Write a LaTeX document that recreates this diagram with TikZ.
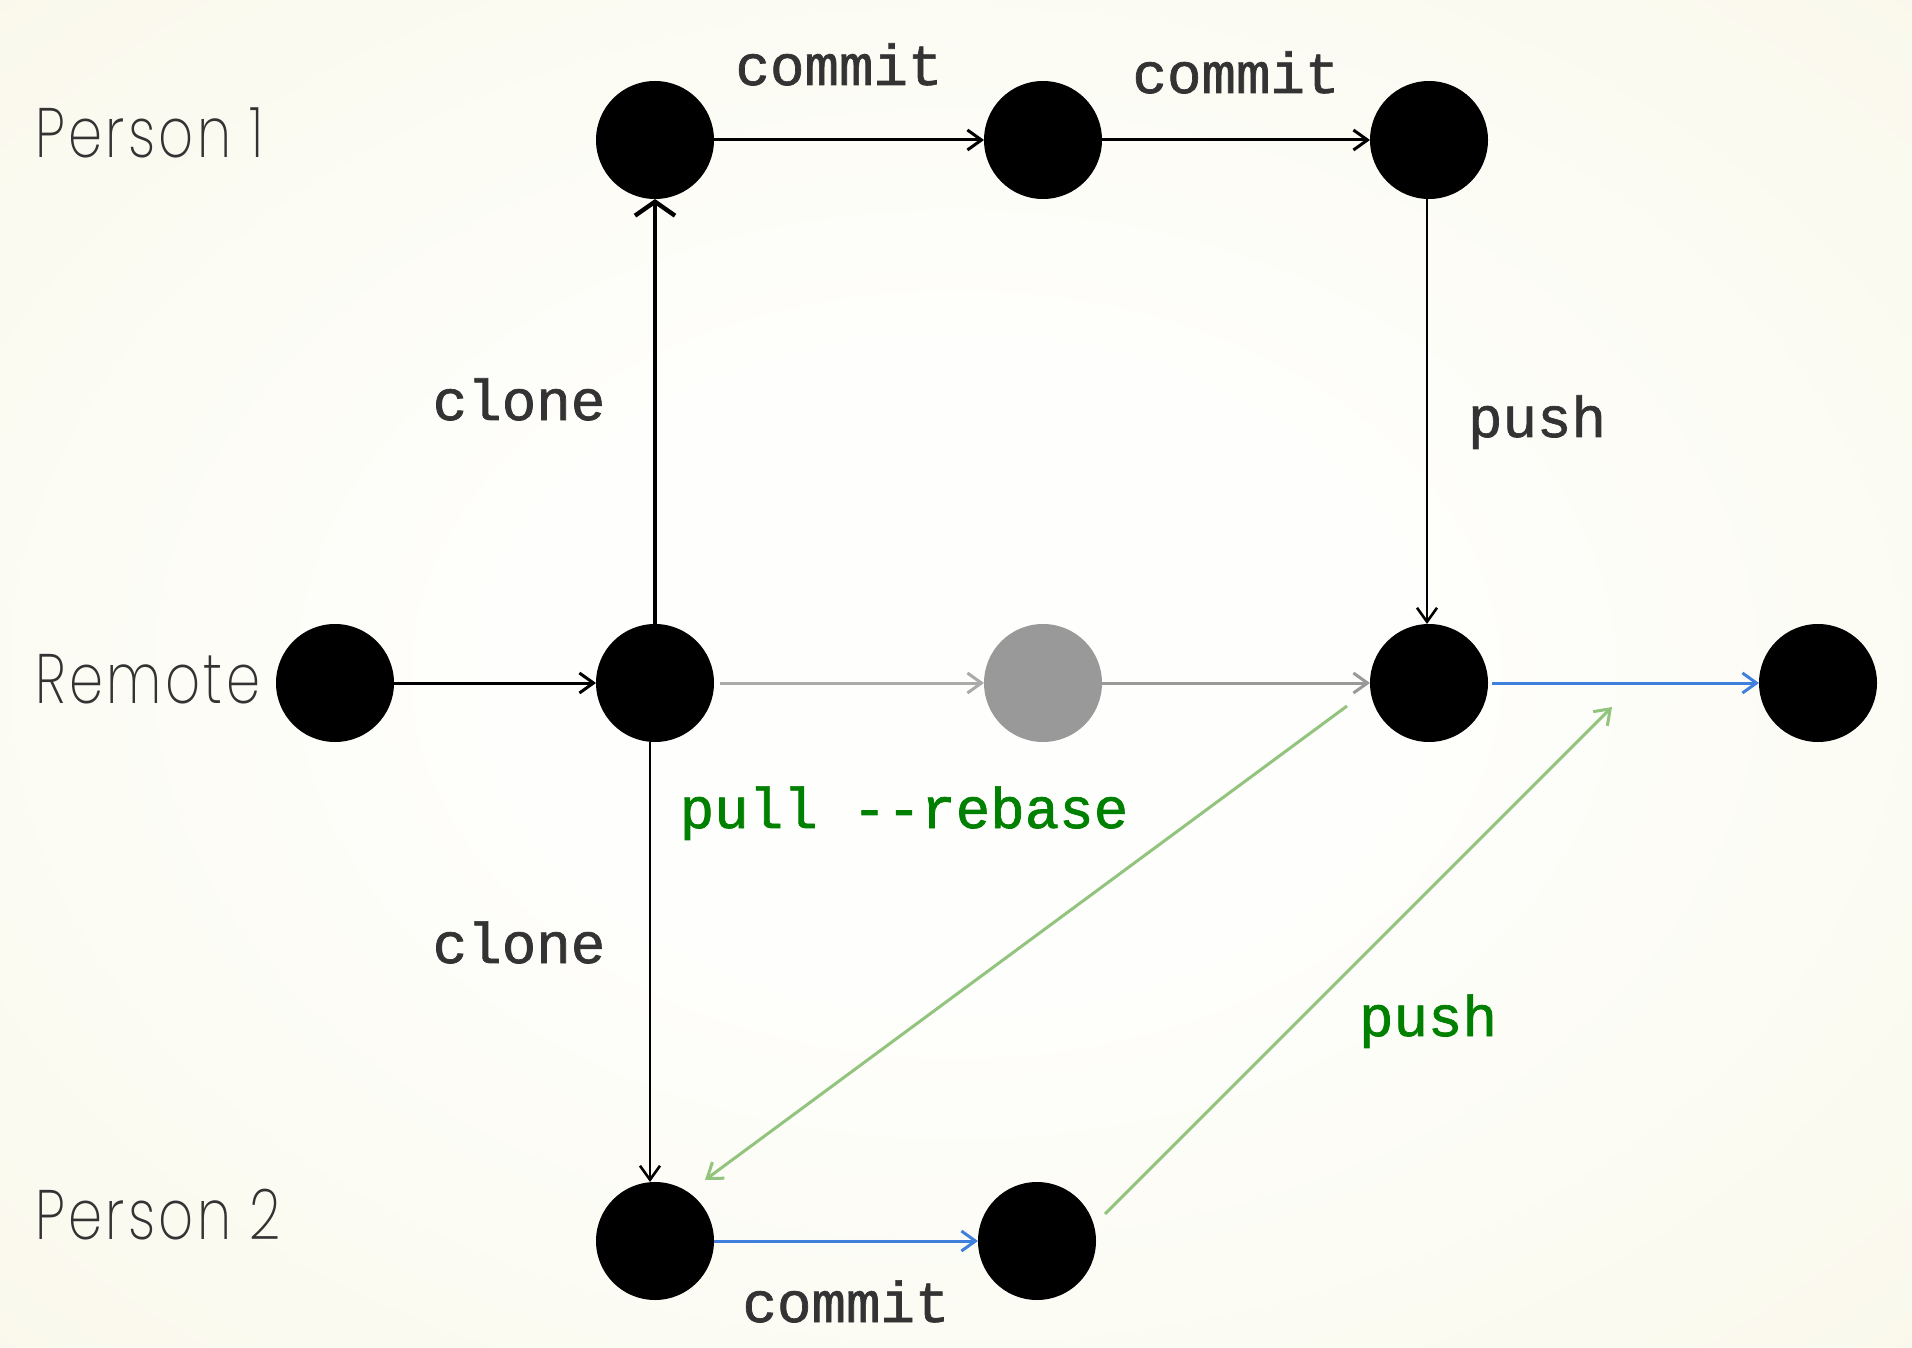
\documentclass[tikz,border=0pt]{standalone}
\usepackage{fontspec}
\usetikzlibrary{arrows.meta}
\newfontfamily\monob{Liberation Mono}[Ligatures=TeXOff,FakeBold=1.2]
\newfontfamily\labfont{Poppins ExtraLight}[LetterSpace=6]
\definecolor{txt}{HTML}{333333}
\definecolor{lab}{HTML}{333333}
\definecolor{gA}{HTML}{AAAAAA}
\definecolor{gB}{HTML}{999999}
\definecolor{bl}{HTML}{3F80DC}
\definecolor{lg}{HTML}{93C47D}
\definecolor{dg}{HTML}{008000}
\definecolor{bgin}{HTML}{FEFEFC}
\definecolor{bgmid}{HTML}{FBFAF0}
\definecolor{bgout}{HTML}{F8F4E0}
\definecolor{bgcorner}{HTML}{F5EFD3}
\pgfdeclareradialshading{bgshade}{\pgfpoint{0bp}{0bp}}{color(0bp)=(bgin); color(12bp)=(bgin); color(30bp)=(bgmid); color(50bp)=(bgout); color(72bp)=(bgcorner)}
\tikzset{
  dot/.style={circle,fill=black,minimum size=59pt,inner sep=0pt,outer sep=0pt},
  graydot/.style={dot,fill=gB},
  conn/.style={line width=1.5pt,-{Straight Barb[length=7pt,width=10pt]}},
  mono/.style={font=\monob\fontsize{28.75pt}{30pt}\selectfont,text=txt,anchor=base,inner sep=0pt},
  monog/.style={mono,text=dg},
  rowlab/.style={font=\labfont\fontsize{35pt}{37pt}\selectfont,text=lab,anchor=base west,inner sep=0pt},
}
\begin{document}
\begin{tikzpicture}[x=0.5pt,y=-0.5pt]
\useasboundingbox (0,0) rectangle (1912,1348);
\shade[shading=bgshade] (0,0) rectangle (1912,1348);
% nodes
\node[dot] (p1a) at (655,140) {};
\node[dot] (p1b) at (1043,140) {};
\node[dot] (p1c) at (1429,140) {};
\node[dot] (r0) at (335,683) {};
\node[dot] (r1) at (655,683) {};
\node[graydot] (r2) at (1043,683) {};
\node[dot] (r3) at (1429,683) {};
\node[dot] (r4) at (1818,683) {};
\node[dot] (p2a) at (655,1241) {};
\node[dot] (p2b) at (1037,1241) {};
% row labels
\node[rowlab] (lp1) at (35,158) {\scalebox{0.78}[1]{Person 1}};
\node[rowlab] (lr) at (35,703) {\scalebox{0.78}[1]{Remote}};
\node[rowlab] (lp2) at (35,1239) {\scalebox{0.78}[1]{Person 2}};
% connectors
\draw[conn] (p1a) -- (p1b);
\draw[conn] (p1b) -- (p1c);
\draw[conn] (r0) -- (r1);
\draw[conn,draw=gA,shorten <=3pt] (r1) -- (r2);
\draw[conn,draw=gB] (r2) -- (r3);
\draw[conn,draw=bl,shorten <=2pt] (r3) -- (r4);
\draw[conn,draw=bl] (p2a) -- (p2b);
\draw[line width=2.2pt,-{Straight Barb[length=7pt,width=20pt]}] (r1) -- (p1a);
\draw[conn,line width=1.3pt] ([xshift=-2.5pt]r1.south) -- ([xshift=-2.5pt]p2a.north);
\draw[conn,line width=1.3pt] ([xshift=-1pt]p1c.south) -- ([xshift=-1pt]r3.north);
\coordinate (g1s) at (1347,706);
\coordinate (g1e) at (705,1180);
\coordinate (g2s) at (1105,1214);
\coordinate (g2e) at (1612,707);
\draw[conn,draw=lg] (g1s) -- (g1e);
\draw[conn,draw=lg] (g2s) -- (g2e);
% labels
\node[mono] (c1) at (839,85) {commit};
\node[mono] (c2) at (1236,93) {commit};
\node[mono] (cl1) at (519,420) {clone};
\node[mono] (ps1) at (1537,437) {push};
\node[monog] (pr) at (904,828) {pull --rebase};
\node[mono] (cl2) at (519,963) {clone};
\node[monog] (ps2) at (1428,1036) {push};
\node[mono] (c3) at (846,1322) {commit};
\end{tikzpicture}
\end{document}
